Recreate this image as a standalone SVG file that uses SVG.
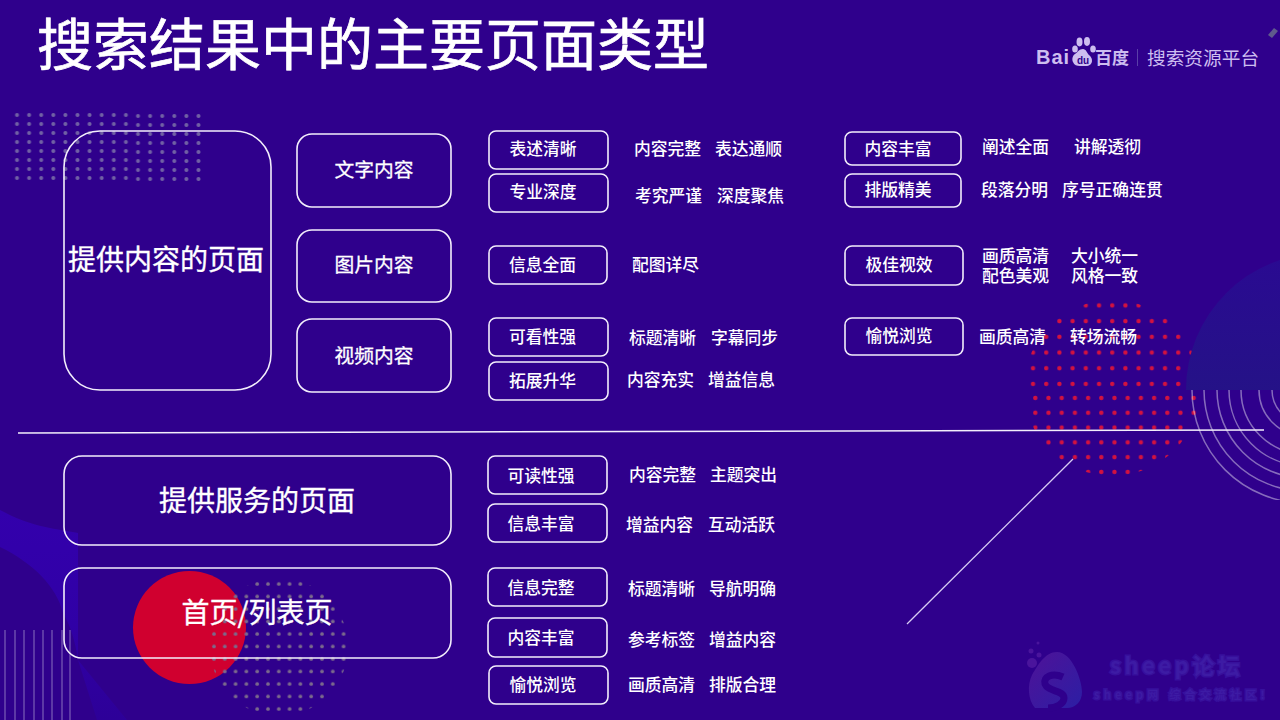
<svg xmlns="http://www.w3.org/2000/svg" width="1280" height="720" viewBox="0 0 1280 720">
<style>
text{font-family:"Noto Sans CJK SC","Noto Sans",sans-serif;fill:#fff;font-weight:500}
.box{fill:none;stroke:#f3eefc;stroke-width:1.6}
.lab{text-anchor:middle;font-size:16.8px}
.d{font-size:16.8px}
.m{text-anchor:middle;font-size:19.8px;font-weight:400;stroke:#fff;stroke-width:.3}
.l{text-anchor:middle;font-size:28px;font-weight:400;stroke:#fff;stroke-width:.35}
.arc{fill:none;stroke:#fff;stroke-opacity:.42;stroke-width:1.5}
.vl{stroke:#fff;stroke-opacity:.34;stroke-width:1.3}
.wm{fill:#3d1ba4;stroke:#37109c;stroke-width:3;paint-order:stroke;font-weight:700}
.lg{fill:#cdbdf0}
</style>
<defs>
<pattern id="pgrey" x="11" y="111" width="12.1" height="9" patternUnits="userSpaceOnUse"><circle cx="6" cy="4" r="2" fill="#7060a4"/></pattern>
<pattern id="pgrey1" x="132" y="112" width="12.1" height="9" patternUnits="userSpaceOnUse"><circle cx="6" cy="4" r="2" fill="#7060a4"/></pattern>
<pattern id="pgrey2" x="209" y="579" width="10.8" height="12.5" patternUnits="userSpaceOnUse"><circle cx="5" cy="5" r="1.8" fill="#7b6a8c"/></pattern>
<pattern id="predA" x="1027" y="301.5" width="13.2" height="15.7" patternUnits="userSpaceOnUse"><circle cx="6" cy="4" r="2.2" fill="#d3123f"/></pattern>
<pattern id="predB" x="1029.3" y="394" width="13.2" height="14.8" patternUnits="userSpaceOnUse"><circle cx="6" cy="4" r="2.2" fill="#d3123f"/></pattern>
<linearGradient id="gdome" x1="0" y1="0" x2="0" y2="1"><stop offset="0" stop-color="#2a0a92"/><stop offset="1" stop-color="#1f1a7c"/></linearGradient>
<linearGradient id="gband" x1="0" y1="0" x2="0" y2="1"><stop offset="0" stop-color="#3300ac"/><stop offset=".55" stop-color="#3000a6"/><stop offset="1" stop-color="#2d0098"/></linearGradient>
<linearGradient id="gs" x1="0" y1="0" x2="1" y2="1"><stop offset="0" stop-color="#4f1298"/><stop offset="1" stop-color="#2c1ea4"/></linearGradient>
<clipPath id="cgrey"><circle cx="279" cy="647" r="69"/></clipPath>
<clipPath id="cred"><circle cx="1112" cy="388" r="88"/></clipPath>
<clipPath id="carc"><rect x="1180" y="390" width="100" height="110"/></clipPath>
<clipPath id="cdome"><rect x="1170" y="250" width="110" height="140"/></clipPath>
</defs>
<rect id="bg" width="1280" height="720" fill="#2f008c"/>
<g id="decor">
<path d="M0 510C30 526 50 528 78 533V660L127 720H97L78 660C75 640 70 625 63 613C57 587 33 563 0 547Z" fill="url(#gband)"/>
<rect x="11" y="111" width="121" height="72" fill="url(#pgrey)"/>
<rect x="132" y="112" width="72.6" height="72" fill="url(#pgrey1)"/>
<circle cx="189.5" cy="627.5" r="56.5" fill="#d0002f"/>
<rect x="205" y="575" width="150" height="145" fill="url(#pgrey2)" clip-path="url(#cgrey)"/>
<g class="vl"><line x1="5" y1="630" x2="5" y2="720"/><line x1="15" y1="630" x2="15" y2="720"/><line x1="24" y1="630" x2="24" y2="720"/><line x1="34" y1="630" x2="34" y2="720"/><line x1="43" y1="630" x2="43" y2="720"/><line x1="52" y1="630" x2="52" y2="720"/><line x1="62" y1="630" x2="62" y2="720"/><line x1="70" y1="630" x2="70" y2="720"/></g>
<rect x="1027" y="301.5" width="175" height="92.5" fill="url(#predA)" clip-path="url(#cred)"/>
<rect x="1029" y="394" width="175" height="88" fill="url(#predB)" clip-path="url(#cred)"/>
<circle cx="1323" cy="390" r="137" fill="url(#gdome)" clip-path="url(#cdome)"/>
<g clip-path="url(#carc)"><circle class="arc" cx="1305" cy="390" r="113"/><circle class="arc" cx="1305" cy="390" r="101"/><circle class="arc" cx="1305" cy="390" r="88"/><circle class="arc" cx="1305" cy="390" r="76"/><circle class="arc" cx="1305" cy="390" r="64"/><circle class="arc" cx="1305" cy="390" r="46"/><circle class="arc" cx="1305" cy="390" r="33"/></g>
<path d="M1268 35l6-7 4 3-6 7z" fill="#5f5a8c"/>
</g>
<g id="logo" fill="#cdbdf0">
<text x="1036" y="64" font-size="20" letter-spacing="1" class="lg" style="font-family:'Liberation Sans',sans-serif;font-weight:700">Bai</text>
<ellipse cx="1075" cy="49" rx="2.8" ry="3.6"/><ellipse cx="1079.5" cy="42" rx="3" ry="4.4"/><ellipse cx="1087" cy="41.5" rx="3" ry="4.4"/><ellipse cx="1093" cy="49" rx="2.8" ry="3.6"/>
<path d="M1083 49c-4 0-5 3-8 5-3 2-3 6-2 8 1 3 4 4 7 4h6c3 0 6-2 6-5 0-3-1-4-3-6-2-2-3-6-6-6z"/>
<text x="1083" y="63.5" font-size="10" text-anchor="middle" style="fill:#2f008c;font-family:'Liberation Sans',sans-serif;font-weight:700">du</text>
<text x="1095" y="64" font-size="17" class="lg" style="font-weight:700">百度</text>
<rect x="1137" y="49" width="1" height="17" fill="#5a3fa8"/>
<text x="1147" y="65" font-size="18.7" class="lg" style="font-weight:400">搜索资源平台</text>
</g>
<text id="title" x="37" y="65" font-size="56" style="font-weight:400;stroke:#fff;stroke-width:.7">搜索结果中的主要页面类型</text>
<g id="connectors" fill="none" stroke="#f3eefc">
<line x1="18" y1="433" x2="1264" y2="430" stroke-width="1.5"/>
<line x1="1073" y1="459" x2="907" y2="624" stroke="#d8ccf4" stroke-width="1.3"/>
</g>
<g id="n-content"><rect class="box" x="64" y="131" width="207" height="259" rx="36"/><text class="l" x="166" y="270">提供内容的页面</text></g>
<g id="n-text"><rect class="box" x="297" y="134" width="154" height="73" rx="15"/><text class="m" x="374" y="177">文字内容</text></g>
<g id="n-image"><rect class="box" x="297" y="230" width="154" height="72" rx="15"/><text class="m" x="374" y="272">图片内容</text></g>
<g id="n-video"><rect class="box" x="297" y="319" width="154" height="73" rx="15"/><text class="m" x="374" y="363">视频内容</text></g>
<g id="n-service"><rect class="box" x="64" y="456" width="387" height="89" rx="18"/><text class="l" x="257" y="511">提供服务的页面</text></g>
<g id="n-list"><rect class="box" x="64" y="568" width="387" height="90" rx="18"/><text class="l" x="257" y="623">首页/列表页</text></g>
<g id="n1"><rect class="box" x="489" y="131" width="119" height="38" rx="7"/><text class="lab" x="543" y="155">表述清晰</text><text class="d" x="634" y="155">内容完整</text><text class="d" x="715" y="155">表达通顺</text></g>
<g id="n2"><rect class="box" x="489" y="174" width="119" height="38" rx="7"/><text class="lab" x="543" y="198">专业深度</text><text class="d" x="635" y="202">考究严谨</text><text class="d" x="717" y="202">深度聚焦</text></g>
<g id="n3"><rect class="box" x="489" y="246" width="118" height="38" rx="7"/><text class="lab" x="542.5" y="271">信息全面</text><text class="d" x="632" y="271">配图详尽</text></g>
<g id="n4"><rect class="box" x="489" y="318" width="119" height="38" rx="7"/><text class="lab" x="542.5" y="343">可看性强</text><text class="d" x="629" y="344">标题清晰</text><text class="d" x="711" y="344">字幕同步</text></g>
<g id="n5"><rect class="box" x="489" y="362" width="119" height="38" rx="7"/><text class="lab" x="542.5" y="387">拓展升华</text><text class="d" x="627" y="386">内容充实</text><text class="d" x="708" y="386">增益信息</text></g>
<g id="n6"><rect class="box" x="845" y="132" width="116" height="33" rx="7"/><text class="lab" x="898" y="155">内容丰富</text><text class="d" x="982" y="153">阐述全面</text><text class="d" x="1074" y="153">讲解透彻</text></g>
<g id="n7"><rect class="box" x="845" y="174" width="116" height="33" rx="7"/><text class="lab" x="898" y="196">排版精美</text><text class="d" x="981" y="196">段落分明</text><text class="d" x="1062" y="196">序号正确连贯</text></g>
<g id="n8"><rect class="box" x="845" y="246" width="118" height="39" rx="7"/><text class="lab" x="899" y="271">极佳视效</text><text class="d" x="982" y="262">画质高清</text><text class="d" x="1071" y="262">大小统一</text><text class="d" x="982" y="282">配色美观</text><text class="d" x="1071" y="282">风格一致</text></g>
<g id="n9"><rect class="box" x="845" y="318" width="118" height="37" rx="7"/><text class="lab" x="899" y="342">愉悦浏览</text><text class="d" x="979" y="343">画质高清</text><text class="d" x="1070" y="343">转场流畅</text></g>
<g id="n10"><rect class="box" x="488" y="456" width="119" height="38" rx="7"/><text class="lab" x="541" y="482">可读性强</text><text class="d" x="629" y="481">内容完整</text><text class="d" x="710" y="481">主题突出</text></g>
<g id="n11"><rect class="box" x="488" y="504" width="119" height="38" rx="7"/><text class="lab" x="541" y="530">信息丰富</text><text class="d" x="626" y="531">增益内容</text><text class="d" x="708" y="531">互动活跃</text></g>
<g id="n12"><rect class="box" x="488" y="568" width="119" height="38" rx="7"/><text class="lab" x="541" y="594">信息完整</text><text class="d" x="628" y="595">标题清晰</text><text class="d" x="709" y="595">导航明确</text></g>
<g id="n13"><rect class="box" x="488" y="618" width="119" height="39" rx="7"/><text class="lab" x="541" y="644">内容丰富</text><text class="d" x="628" y="646">参考标签</text><text class="d" x="709" y="646">增益内容</text></g>
<g id="n14"><rect class="box" x="489" y="666" width="119" height="38" rx="7"/><text class="lab" x="543" y="691">愉悦浏览</text><text class="d" x="628" y="691">画质高清</text><text class="d" x="709" y="691">排版合理</text></g>
<g id="watermark">
<path d="M1057 652C1072 652 1082 680 1082 692C1082 702 1075 708 1067 708L1035 708C1028 700 1027 685 1032 675C1038 665 1045 652 1057 652Z" fill="url(#gs)"/>
<path d="M1063 677C1052 672 1043 677 1045 684C1048 692 1064 690 1064 698C1064 704 1056 708 1048 708" fill="none" stroke="#2f008c" stroke-width="7"/>
<circle cx="1032" cy="663" r="5" fill="#4a149c"/><circle cx="1031" cy="651" r="2.5" fill="#4a149c"/><circle cx="1039" cy="655" r="2.5" fill="#4a149c"/><circle cx="1038" cy="643" r="1.5" fill="#4a149c"/>
<text class="wm" x="1110" y="674" font-size="22" letter-spacing="3.5">sheep论坛</text>
<text class="wm" x="1094" y="699" font-size="11" letter-spacing="4.2">sheep网 综合交流社区!</text>
</g>
</svg>
